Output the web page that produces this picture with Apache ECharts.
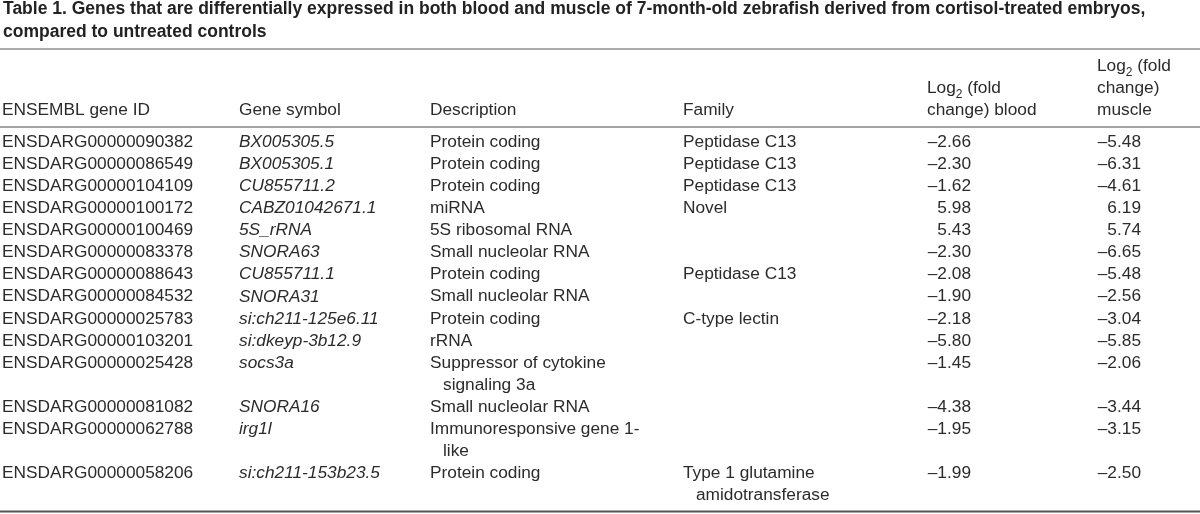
<!DOCTYPE html>
<html><head><meta charset="utf-8">
<script src="https://cdn.jsdelivr.net/npm/echarts@6/dist/echarts.min.js"></script>
<style>html,body{margin:0;padding:0;background:#fff}#c{width:1200px;height:514px}</style>
</head><body><div id="c"></div>
<script>
// ---- data ----
const titleLines = [
  "Table 1. Genes that are differentially expressed in both blood and muscle of 7-month-old zebrafish derived from cortisol-treated embryos,",
  "compared to untreated controls"
];
const headers = [
  ["ENSEMBL gene ID"],
  ["Gene symbol"],
  ["Description"],
  ["Family"],
  ["{t|Log}{s|2}{t| (fold}", "{t|change) blood}"],
  ["{t|Log}{s|2}{t| (fold}", "{t|change)}", "{t|muscle}"]
];
const geneIds = ["ENSDARG00000090382","ENSDARG00000086549","ENSDARG00000104109","ENSDARG00000100172","ENSDARG00000100469","ENSDARG00000083378","ENSDARG00000088643","ENSDARG00000084532","ENSDARG00000025783","ENSDARG00000103201","ENSDARG00000025428","ENSDARG00000081082","ENSDARG00000062788","ENSDARG00000058206"];
const geneSymbols = ["BX005305.5","BX005305.1","CU855711.2","CABZ01042671.1","5S_rRNA","SNORA63","CU855711.1","SNORA31","si:ch211-125e6.11","si:dkeyp-3b12.9","socs3a","SNORA16","irg1l","si:ch211-153b23.5"];
const descriptions = ["Protein coding","Protein coding","Protein coding","miRNA","5S ribosomal RNA","Small nucleolar RNA","Protein coding","Small nucleolar RNA","Protein coding","rRNA","Suppressor of cytokine\nsignaling 3a","Small nucleolar RNA","Immunoresponsive gene 1-\nlike","Protein coding"];
const families = ["Peptidase C13","Peptidase C13","Peptidase C13","Novel","","","Peptidase C13","","C-type lectin","","","","","Type 1 glutamine\namidotransferase"];
const log2Blood = [-2.66,-2.30,-1.62,5.98,5.43,-2.30,-2.08,-1.90,-2.18,-5.80,-1.45,-4.38,-1.95,-1.99];
const log2Muscle = [-5.48,-6.31,-4.61,6.19,5.74,-6.65,-5.48,-2.56,-3.04,-5.85,-2.06,-3.44,-3.15,-2.50];

// ---- layout / style ----
const W = 1200;
const colX = [2, 239, 430, 683, 971, 1141];
const colAlign = ['left','left','left','left','right','right'];
const headerLeft = [2, 239, 430, 683, 927, 1097];
const indent = 13;
const firstRowY = 142, lineStep = 22.1;
const headerBottomY = 110, headerStep = 22;
const FONT = "'Liberation Sans', Arial, Helvetica, sans-serif";
const TXT = '#2b2b2b';
const FS = 17.3;

const fmt = v => (v < 0 ? '\u2013' : '') + Math.abs(v).toFixed(2);
const nLines = geneIds.map((_, i) => Math.max(descriptions[i].split('\n').length, families[i].split('\n').length));
const lineStart = [];
nLines.reduce((acc, n, i) => { lineStart[i] = acc; return acc + n; }, 0);
const totalLines = nLines.reduce((a, b) => a + b, 0);

const graphics = [];
titleLines.forEach((t, k) => graphics.push({
  type: 'text', x: 3, y: 9 + k * 22.7,
  style: { text: t, font: "bold 17.5px " + FONT, fill: '#222', verticalAlign: 'middle' }
}));
[[49, 1.5, '#8f8f8f'], [127, 2, '#a3a3a3'], [511.5, 2, '#555']].forEach(([y, w, c]) => graphics.push({
  type: 'line', shape: { x1: 0, y1: y, x2: W, y2: y }, style: { stroke: c, lineWidth: w }, silent: true
}));
headers.forEach((lines, c) => {
  lines.forEach((ln, k) => {
    const y = headerBottomY - (lines.length - 1 - k) * headerStep;
    graphics.push({
      type: 'text', x: headerLeft[c], y: y,
      style: {
        text: ln, font: FS + 'px ' + FONT, fill: TXT, verticalAlign: 'middle', align: 'left',
        rich: {
          t: { fontSize: FS, fontFamily: FONT, color: TXT, lineHeight: 22 },
          s: { fontSize: 12, fontFamily: FONT, color: TXT, lineHeight: 12, verticalAlign: 'bottom', padding: [0, 0, -2, 0] }
        }
      }
    });
  });
});

const chart = echarts.init(document.getElementById('c'), null, { renderer: 'canvas' });
chart.setOption({
  animation: false,
  backgroundColor: '#fff',
  grid: { left: 0, right: 0, top: firstRowY - lineStep / 2, height: totalLines * lineStep, containLabel: false },
  xAxis: { type: 'value', min: 0, max: W, show: false },
  yAxis: { type: 'value', min: 0, max: totalLines, inverse: true, show: false },
  graphic: graphics,
  series: [{
    type: 'custom',
    data: geneIds.map((id, i) => [0, lineStart[i]]),
    encode: { x: 0, y: 1 },
    renderItem: function (params, api) {
      const r = params.dataIndex;
      const y0 = api.coord([0, lineStart[r] + 0.5])[1];
      const step = api.size([0, 1])[1];
      const cells = [geneIds[r], geneSymbols[r], descriptions[r], families[r], fmt(log2Blood[r]), fmt(log2Muscle[r])];
      const children = [];
      cells.forEach((cell, c) => {
        if (!cell) return;
        const x = api.coord([colX[c], 0])[0];
        cell.split('\n').forEach((ln, k) => {
          children.push({
            type: 'text',
            style: {
              text: ln, x: x + (k > 0 ? indent : 0), y: y0 + k * step,
              font: (c === 1 ? 'italic ' : '') + FS + 'px ' + FONT,
              fill: TXT, align: colAlign[c], verticalAlign: 'middle'
            }
          });
        });
      });
      return { type: 'group', children: children };
    }
  }]
});
</script>
</body></html>
